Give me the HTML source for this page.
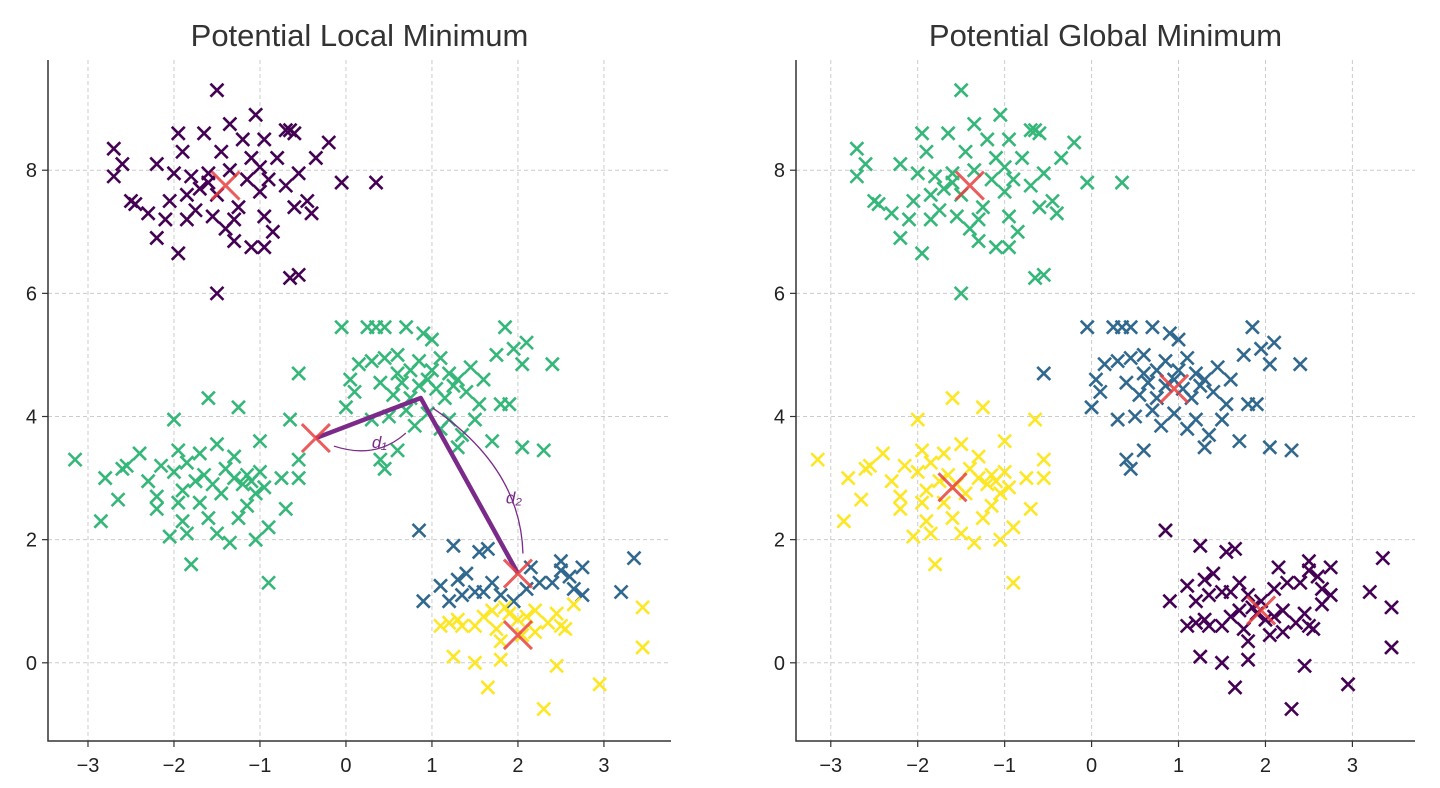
<!DOCTYPE html>
<html><head><meta charset="utf-8"><style>
body{margin:0;background:#fff;}
svg{display:block;font-family:"Liberation Sans","DejaVu Sans",sans-serif;}
</style></head><body>
<svg id="chart" width="1440" height="788" viewBox="0 0 1440 788"></svg>
<script>
// Clusters (data coordinates)
const clusterA = [[-1.5,9.3],[-1.35,8.75],[-1.05,8.9],[-0.7,8.65],[-0.65,8.65],[-2.7,8.35],[-1.95,8.6],[-1.65,8.6],[-1.2,8.5],[-0.95,8.5],[-0.6,8.6],[-0.2,8.45],[-2.6,8.1],[-2.2,8.1],[-1.9,8.3],[-1.45,8.3],[-1.1,8.2],[-0.8,8.2],[-0.35,8.2],[-2.7,7.9],[-2.0,7.95],[-1.8,7.9],[-1.6,7.8],[-1.35,8.0],[-1.0,8.05],[-0.55,7.95],[-0.05,7.8],[0.35,7.8],[-2.5,7.5],[-2.3,7.3],[-2.05,7.5],[-1.85,7.6],[-1.7,7.7],[-1.5,7.6],[-1.25,7.4],[-1.0,7.65],[-0.7,7.75],[-0.45,7.5],[-2.1,7.2],[-1.75,7.35],[-1.55,7.25],[-1.3,7.2],[-0.95,7.25],[-0.6,7.4],[-0.4,7.3],[-2.2,6.9],[-1.95,6.65],[-1.3,6.85],[-1.1,6.75],[-0.95,6.75],[-0.65,6.25],[-0.55,6.3],[-1.5,6.0],[-1.6,7.95],[-1.15,7.85],[-1.85,7.2],[-0.85,7.0],[-2.45,7.45],[-1.4,7.05],[-0.9,7.85]];
const clusterB = [[-3.15,3.3],[-2.85,2.3],[-2.8,3.0],[-2.65,2.65],[-2.6,3.15],[-2.55,3.2],[-2.4,3.4],[-2.2,2.7],[-2.2,2.5],[-2.15,3.2],[-2.05,2.05],[-2.0,3.95],[-1.95,3.45],[-1.9,2.8],[-1.9,2.3],[-1.85,2.1],[-1.8,1.6],[-1.75,2.95],[-1.7,2.6],[-1.65,3.05],[-1.6,4.3],[-1.6,2.35],[-1.55,2.9],[-1.5,3.55],[-1.5,2.1],[-1.45,2.75],[-1.4,3.15],[-1.35,1.95],[-1.3,3.0],[-1.25,2.35],[-1.25,4.15],[-1.2,2.9],[-1.15,3.05],[-1.1,2.95],[-1.05,2.75],[-1.0,3.6],[-1.0,3.1],[-0.95,2.85],[-0.9,2.2],[-0.9,1.3],[-1.05,2.0],[-0.7,2.5],[-0.65,3.95],[-0.55,3.3],[-0.55,3.0],[-1.7,3.4],[-2.0,3.1],[-1.95,2.6],[-1.85,3.25],[-1.3,3.35],[-1.15,2.55],[-0.75,3.0],[-2.3,2.95]];
const clusterC = [[-0.05,5.45],[0.25,5.45],[0.35,5.45],[0.45,5.45],[0.7,5.45],[0.9,5.35],[1.0,5.25],[1.85,5.45],[2.1,5.2],[-0.55,4.7],[0.05,4.6],[0.15,4.85],[0.3,4.9],[0.45,4.95],[0.6,5.0],[0.75,4.75],[0.85,4.9],[1.1,4.95],[1.2,4.7],[1.3,4.6],[1.45,4.8],[1.75,5.0],[1.95,5.1],[2.05,4.85],[2.4,4.85],[0.0,4.15],[0.1,4.4],[0.4,4.55],[0.55,4.35],[0.65,4.55],[0.75,4.3],[0.85,4.5],[0.95,4.6],[1.05,4.45],[1.15,4.3],[1.25,4.5],[1.4,4.4],[1.55,4.2],[1.8,4.2],[1.9,4.2],[0.3,3.95],[0.5,4.0],[0.7,4.1],[0.8,3.85],[0.95,4.05],[1.1,3.8],[1.2,3.95],[1.35,3.7],[1.3,3.5],[0.4,3.3],[0.45,3.15],[0.6,3.45],[1.7,3.6],[2.05,3.5],[2.3,3.45],[1.0,4.75],[1.6,4.6],[0.6,4.7],[1.5,3.95]];
const clusterDUpper = [[0.85,2.15],[1.25,1.9],[1.55,1.8],[1.65,1.85],[0.9,1.0],[1.1,1.25],[1.2,1.0],[1.3,1.35],[1.4,1.45],[1.5,1.15],[1.6,1.15],[1.8,1.1],[1.95,1.0],[2.1,1.2],[2.25,1.3],[2.4,1.3],[2.5,1.5],[2.6,1.4],[2.65,1.2],[2.75,1.1],[2.75,1.55],[3.2,1.15],[3.35,1.7],[1.7,1.3],[1.35,1.1],[2.5,1.65],[2.15,1.55]];
const clusterDLower = [[1.1,0.6],[1.2,0.65],[1.3,0.7],[1.35,0.6],[1.5,0.6],[1.6,0.75],[1.7,0.85],[1.75,0.55],[1.85,0.9],[1.9,0.8],[2.0,0.7],[2.1,0.75],[2.2,0.85],[2.35,0.65],[2.45,0.8],[2.5,0.6],[2.55,0.55],[2.65,0.95],[3.45,0.9],[3.45,0.25],[2.95,-0.35],[2.3,-0.75],[2.45,-0.05],[1.65,-0.4],[1.8,0.05],[1.25,0.1],[1.5,0.0],[1.8,0.35],[2.05,0.45],[2.2,0.5]];
const localCentroids = [[-1.4,7.75],[-0.35,3.65],[2.0,1.45],[2.0,0.45]];
const globalCentroids = [[-1.4,7.75],[-1.6,2.85],[0.95,4.45],[1.95,0.85]];
const xTicks = [-3,-2,-1,0,1,2,3];
const yTicks = [0,2,4,6,8];
const pathPoints = [[-0.35,3.65],[0.87,4.3],[2.0,1.45]];

const PURPLE="#440154", BLUE="#31688e", GREEN="#35b779", YELLOW="#fde725";
const NS="http://www.w3.org/2000/svg";
const svg=document.getElementById('chart');
function el(tag,attrs,parent){const e=document.createElementNS(NS,tag);for(const k in attrs)e.setAttribute(k,attrs[k]);(parent||svg).appendChild(e);return e;}

function panel(cfg){
  const g=el('g',{});
  
  
  const {L,R,T,B,x0,x1,y0,y1}=cfg;
  const sx=v=>L+(v-x0)/(x1-x0)*(R-L);
  const sy=v=>B-(v-y0)/(y1-y0)*(B-T);
  xTicks.forEach(t=>{
    const l=el('line',{x1:sx(t),x2:sx(t),y1:T,y2:B,stroke:'#cccccc','stroke-width':1,'stroke-dasharray':'4,3'},g);
    
    const tk=el('line',{x1:sx(t),x2:sx(t),y1:B,y2:B+6,stroke:'#333','stroke-width':1.2},g);
    
    const tx=el('text',{x:sx(t),y:B+31,'text-anchor':'middle','font-size':20,fill:'#222'},g);
    tx.textContent=t<0?'\u2212'+(-t):t;
    
  });
  yTicks.forEach(t=>{
    const l=el('line',{x1:L,x2:R,y1:sy(t),y2:sy(t),stroke:'#cccccc','stroke-width':1,'stroke-dasharray':'4,3'},g);
    
    const tk=el('line',{x1:L-6,x2:L,y1:sy(t),y2:sy(t),stroke:'#333','stroke-width':1.2},g);
    
    const tx=el('text',{x:L-11,y:sy(t)+7,'text-anchor':'end','font-size':20,fill:'#222'},g);
    tx.textContent=t;
    
  });
  function cross(p,color,s,w,op,name){
    const cx=sx(p[0]),cy=sy(p[1]);
    const m=el('path',{d:`M${cx-s} ${cy-s}L${cx+s} ${cy+s}M${cx-s} ${cy+s}L${cx+s} ${cy-s}`,stroke:color,'stroke-width':w,'stroke-opacity':op,fill:'none'},g);
    
  }
  cfg.groups.forEach(([pts,color])=>pts.forEach(p=>cross(p,color,6.5,2.6,1,'data-point')));
  if(cfg.extra) cfg.extra(g,sx,sy);
  cfg.centroids.forEach(p=>cross(p,'#e8403f',14,3,0.85,'centroid-marker'));
  const ax=el('path',{d:`M${L} ${T}L${L} ${B}L${R} ${B}`,stroke:'#333','stroke-width':1.5,fill:'none'},g);
  
  const ti=el('text',{x:(L+R)/2,y:46,'text-anchor':'middle','font-size':31,fill:'#333'},g);
  ti.textContent=cfg.title;
  
}

panel({name:'local-minimum-panel',title:'Potential Local Minimum',L:48,R:671,T:60,B:741,x0:-3.465,x1:3.78,y0:-1.27,y1:9.79,
  groups:[[clusterA,PURPLE],[clusterB,GREEN],[clusterC,GREEN],[clusterDUpper,BLUE],[clusterDLower,YELLOW]],
  centroids:localCentroids,
  extra:(g,sx,sy)=>{
    const d=pathPoints.map((p,i)=>(i?'L':'M')+sx(p[0])+' '+sy(p[1])).join('');
    const pl=el('path',{d,stroke:'#7b2a8a','stroke-width':4.5,fill:'none','stroke-linejoin':'round'},g);
    
    const a=pathPoints[0],b=pathPoints[1],c=pathPoints[2];
    const a1=el('path',{d:`M${sx(a[0])+18} ${sy(a[1])+8} Q${sx(a[0])+60} ${sy(a[1])+22} ${sx(a[0])+90} ${sy(a[1])-5}`,stroke:'#7b2a8a','stroke-width':1.3,fill:'none'},g);
    
    const a2=el('path',{d:`M${sx(b[0])+12} ${sy(b[1])+10} Q${sx(b[0])+100} ${sy(b[1])+70} ${sx(c[0])+5} ${sy(c[1])-20}`,stroke:'#7b2a8a','stroke-width':1.3,fill:'none'},g);
    
    const t1=el('text',{x:sx(a[0])+56,y:sy(a[1])+10,'font-size':17,'font-style':'italic',fill:'#7b2a8a'},g);
    t1.textContent='d\u2081';
    const t2=el('text',{x:sx(c[0])-12,y:sy(c[1])-70,'font-size':17,'font-style':'italic',fill:'#7b2a8a'},g);
    t2.textContent='d\u2082';
  }});
panel({name:'global-minimum-panel',title:'Potential Global Minimum',L:796,R:1415,T:60,B:741,x0:-3.40,x1:3.72,y0:-1.27,y1:9.79,
  groups:[[clusterA,GREEN],[clusterB,YELLOW],[clusterC,BLUE],[clusterDUpper,PURPLE],[clusterDLower,PURPLE]],
  centroids:globalCentroids});
</script>
</body></html>
